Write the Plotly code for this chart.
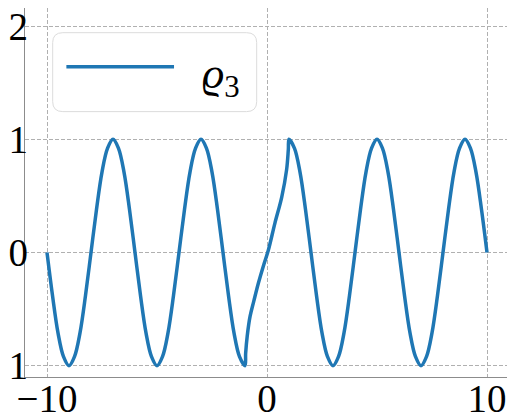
import plotly.graph_objects as go

# curve: sine-like parts on both sides, steep S-shape in the middle
x_left = [-10.0, -9.75, -9.5, -9.25, -9.0, -8.75, -8.5, -8.25, -8.0, -7.75, -7.5, -7.25,
          -7.0, -6.75, -6.5, -6.25, -6.0, -5.75, -5.5, -5.25, -5.0, -4.75, -4.5, -4.25,
          -4.0, -3.75, -3.5, -3.25, -3.0, -2.75, -2.5, -2.25, -2.0, -1.75, -1.5, -1.25]
y_left = [0.0, -0.38, -0.71, -0.92, -1.0, -0.92, -0.71, -0.38, 0.0, 0.38, 0.71, 0.92,
          1.0, 0.92, 0.71, 0.38, 0.0, -0.38, -0.71, -0.92, -1.0, -0.92, -0.71, -0.38,
          0.0, 0.38, 0.71, 0.92, 1.0, 0.92, 0.71, 0.38, 0.0, -0.38, -0.71, -0.92]

x_mid = [-1.0, -0.97, -0.9, -0.77, -0.6, -0.39, -0.15, 0.06, 0.36, 0.67, 0.89, 0.97, 1.0]
y_mid = [-1.0, -0.89, -0.74, -0.565, -0.43, -0.27, -0.11, 0.02, 0.26, 0.49, 0.73, 0.91, 1.0]

x_right = [1.25, 1.5, 1.75, 2.0, 2.25, 2.5, 2.75, 3.0, 3.25, 3.5, 3.75, 4.0,
           4.25, 4.5, 4.75, 5.0, 5.25, 5.5, 5.75, 6.0, 6.25, 6.5, 6.75, 7.0,
           7.25, 7.5, 7.75, 8.0, 8.25, 8.5, 8.75, 9.0, 9.25, 9.5, 9.75, 10.0]
y_right = [0.92, 0.71, 0.38, 0.0, -0.38, -0.71, -0.92, -1.0, -0.92, -0.71, -0.38, 0.0,
           0.38, 0.71, 0.92, 1.0, 0.92, 0.71, 0.38, 0.0, -0.38, -0.71, -0.92, -1.0,
           -0.92, -0.71, -0.38, 0.0, 0.38, 0.71, 0.92, 1.0, 0.92, 0.71, 0.38, 0.0]

x_ticks = [-10, 0, 10]
x_labels = ["−10", "0", "10"]
y_ticks = [-1, 0, 1, 2]
y_labels = ["−1", "0", "1", "2"]

series_name = "<i>ϱ</i><sub>3</sub>"
line_color = "#1f77b4"

xs = x_left + x_mid + x_right
ys = y_left + y_mid + y_right

serif = "Liberation Serif, DejaVu Serif, serif"
tick_font = dict(family=serif, size=39, color="black")

fig = go.Figure()
fig.add_trace(go.Scatter(
    x=xs, y=ys, mode="lines", name=series_name, showlegend=False,
    line=dict(color=line_color, width=3.5, shape="spline"),
))

# legend drawn by hand so it looks like the matplotlib one (rounded frame, long swatch)
x0, x1, y0, y1 = 0.0572, 0.4787, 0.7192, 0.9331
rx, ry = 0.021, 0.027
frame = (f"M{x0+rx},{y1} L{x1-rx},{y1} Q{x1},{y1} {x1},{y1-ry} "
         f"L{x1},{y0+ry} Q{x1},{y0} {x1-rx},{y0} L{x0+rx},{y0} "
         f"Q{x0},{y0} {x0},{y0+ry} L{x0},{y1-ry} Q{x0},{y1} {x0+rx},{y1} Z")

fig.update_layout(
    width=507, height=404,
    margin=dict(l=17, r=6, t=0, b=35),
    plot_bgcolor="white", paper_bgcolor="white",
    shapes=[
        dict(type="path", xref="paper", yref="paper", path=frame,
             line=dict(color="#dcdcdc", width=1), fillcolor="rgba(255,255,255,0.8)",
             layer="above"),
        dict(type="line", xref="paper", yref="paper", x0=0.0855, x1=0.3079, y0=0.8411, y1=0.8411,
             line=dict(color=line_color, width=3.5), layer="above"),
    ],
    annotations=[
        dict(text=series_name, xref="paper", yref="paper", x=0.362, y=0.815,
             xanchor="left", yanchor="middle", showarrow=False,
             font=dict(family=serif, size=44, color="black")),
    ],
)
fig.update_xaxes(range=[-11, 11], tickvals=x_ticks, ticktext=x_labels, tickfont=tick_font,
                 showgrid=True, gridcolor="#b0b0b0", griddash="4px,2px", gridwidth=1,
                 zeroline=False, showline=True, linecolor="#8c8c8c", linewidth=1.2, mirror=True,
                 ticks="", ticklabelstandoff=-13, ticklabeloverflow="allow", automargin=False)
fig.update_yaxes(range=[-1.1, 2.16], tickvals=y_ticks, ticktext=y_labels, tickfont=tick_font,
                 showgrid=True, gridcolor="#b0b0b0", griddash="4px,2px", gridwidth=1,
                 zeroline=False, showline=True, linecolor="#8c8c8c", linewidth=1.2, mirror=True,
                 ticks="", ticklabelstandoff=-12, ticklabeloverflow="allow", automargin=False)

fig.write_html("out.html")
